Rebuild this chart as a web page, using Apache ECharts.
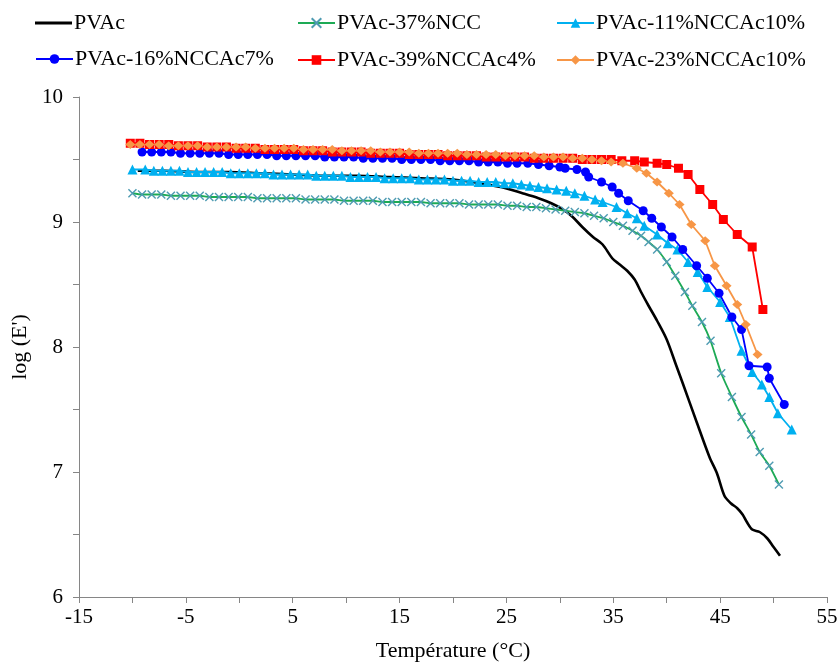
<!DOCTYPE html>
<html>
<head>
<meta charset="utf-8">
<script src="https://cdn.jsdelivr.net/npm/echarts@6/dist/echarts.min.js"></script>
<style>
html,body{margin:0;padding:0;background:#fff;}
#chart{width:838px;height:663px;}
</style>
</head>
<body>
<div id="chart"></div>
<script>
// ---- Data ----
var seriesNames = ['PVAc', 'PVAc-37%NCC', 'PVAc-11%NCCAc10%', 'PVAc-16%NCCAc7%', 'PVAc-39%NCCAc4%', 'PVAc-23%NCCAc10%'];

var pvacX = [-9.5, -7, -4, -1, 2, 5, 8, 11, 14, 17, 20, 22.5, 24.5, 26.5, 28, 29.2, 30.3, 31.2, 32.1, 33.1, 34.0, 34.9, 35.6, 36.3, 37.0, 37.6, 38.3, 39.1, 40.0, 40.9, 41.5, 42.8, 44.0, 44.7, 45.4, 46.0, 46.6, 47.1, 47.5, 48.0, 48.7, 49.4, 50.0, 50.6];
var pvacY = [9.41, 9.41, 9.40, 9.40, 9.39, 9.38, 9.37, 9.37, 9.36, 9.35, 9.34, 9.31, 9.28, 9.23, 9.19, 9.15, 9.10, 9.04, 8.96, 8.88, 8.82, 8.71, 8.66, 8.61, 8.54, 8.44, 8.33, 8.21, 8.06, 7.85, 7.71, 7.40, 7.12, 6.99, 6.81, 6.75, 6.71, 6.66, 6.60, 6.54, 6.52, 6.47, 6.40, 6.33];

var nccX = [-10.0, -9.1, -8.2, -7.3, -6.4, -5.5, -4.6, -3.7, -2.8, -1.9, -1.0, -0.1, 0.8, 1.7, 2.6, 3.5, 4.4, 5.3, 6.2, 7.1, 8.0, 8.9, 9.8, 10.7, 11.6, 12.5, 13.4, 14.3, 15.2, 16.1, 17.0, 17.9, 18.8, 19.7, 20.6, 21.5, 22.4, 23.3, 24.2, 25.1, 26.0, 26.9, 27.8, 28.7, 29.6, 30.5, 31.4, 32.3, 33.2, 34.1, 35.0, 35.9, 36.8, 37.6, 38.3, 39.1, 40.0, 40.8, 41.7, 42.4, 43.3, 44.1, 45.1, 46.1, 47.0, 47.9, 48.7, 49.6, 50.5];
var nccY = [9.23, 9.22, 9.22, 9.22, 9.21, 9.21, 9.21, 9.21, 9.20, 9.20, 9.20, 9.20, 9.20, 9.19, 9.19, 9.19, 9.19, 9.19, 9.18, 9.18, 9.18, 9.18, 9.17, 9.17, 9.17, 9.17, 9.16, 9.16, 9.16, 9.16, 9.16, 9.15, 9.15, 9.15, 9.15, 9.14, 9.14, 9.14, 9.14, 9.13, 9.13, 9.12, 9.12, 9.11, 9.10, 9.09, 9.08, 9.07, 9.05, 9.03, 9.00, 8.97, 8.93, 8.89, 8.84, 8.78, 8.68, 8.57, 8.44, 8.33, 8.20, 8.05, 7.79, 7.60, 7.44, 7.30, 7.16, 7.05, 6.90];

var ac11X = [-10.0, -8.8, -8.0, -7.2, -6.4, -5.6, -4.8, -4.0, -3.2, -2.4, -1.6, -0.8, 0.0, 0.8, 1.6, 2.4, 3.2, 4.0, 4.8, 5.6, 6.4, 7.2, 8.0, 8.8, 9.6, 10.4, 11.2, 12.0, 12.8, 13.6, 14.4, 15.2, 16.0, 16.8, 17.6, 18.4, 19.2, 20.0, 20.8, 21.6, 22.4, 23.2, 24.0, 24.8, 25.6, 26.4, 27.2, 28.0, 28.8, 29.7, 30.6, 31.4, 32.3, 33.3, 34.0, 35.3, 36.3, 37.2, 37.9, 39.1, 40.1, 41.0, 42.0, 42.9, 43.8, 45.0, 45.9, 47.0, 48.0, 48.9, 49.6, 50.4, 51.7];
var ac11Y = [9.42, 9.42, 9.41, 9.41, 9.41, 9.41, 9.40, 9.40, 9.40, 9.40, 9.40, 9.39, 9.39, 9.39, 9.39, 9.39, 9.38, 9.38, 9.38, 9.38, 9.38, 9.37, 9.37, 9.37, 9.37, 9.36, 9.36, 9.36, 9.36, 9.35, 9.35, 9.35, 9.35, 9.34, 9.34, 9.34, 9.34, 9.33, 9.33, 9.33, 9.32, 9.32, 9.32, 9.31, 9.31, 9.30, 9.29, 9.28, 9.27, 9.26, 9.25, 9.23, 9.21, 9.18, 9.16, 9.12, 9.07, 9.03, 8.97, 8.90, 8.83, 8.78, 8.68, 8.60, 8.48, 8.36, 8.24, 7.97, 7.80, 7.70, 7.60, 7.47, 7.34];

var ac7X = [-9.1, -8.2, -7.3, -6.4, -5.5, -4.6, -3.7, -2.8, -1.9, -1.0, -0.1, 0.8, 1.7, 2.6, 3.5, 4.4, 5.3, 6.2, 7.1, 8.0, 8.9, 9.8, 10.7, 11.6, 12.5, 13.4, 14.3, 15.2, 16.1, 17.0, 17.9, 18.8, 19.7, 20.6, 21.5, 22.4, 23.3, 24.2, 25.1, 26.0, 27.0, 28.0, 29.0, 30.0, 30.5, 31.6, 32.4, 32.7, 33.9, 34.9, 35.5, 36.4, 37.8, 38.6, 39.5, 40.5, 41.5, 42.8, 43.8, 44.9, 46.1, 47.0, 47.7, 49.4, 49.6, 51.0];
var ac7Y = [9.56, 9.56, 9.56, 9.56, 9.55, 9.55, 9.55, 9.55, 9.55, 9.54, 9.54, 9.54, 9.54, 9.54, 9.53, 9.53, 9.53, 9.53, 9.53, 9.52, 9.52, 9.52, 9.52, 9.51, 9.51, 9.51, 9.51, 9.50, 9.50, 9.50, 9.50, 9.49, 9.49, 9.49, 9.49, 9.48, 9.48, 9.48, 9.47, 9.47, 9.47, 9.46, 9.45, 9.44, 9.43, 9.42, 9.40, 9.36, 9.32, 9.28, 9.23, 9.17, 9.09, 9.03, 8.96, 8.88, 8.78, 8.65, 8.55, 8.43, 8.24, 8.14, 7.85, 7.84, 7.75, 7.54];

var ac4X = [-10.2, -9.3, -8.4, -7.5, -6.6, -5.7, -4.8, -3.9, -3.0, -2.1, -1.2, -0.3, 0.6, 1.5, 2.4, 3.3, 4.2, 5.1, 6.0, 6.9, 7.8, 8.7, 9.6, 10.5, 11.4, 12.3, 13.2, 14.1, 15.0, 15.9, 16.8, 17.7, 18.6, 19.5, 20.4, 21.3, 22.2, 23.1, 24.0, 24.9, 25.8, 26.7, 27.6, 28.5, 29.4, 30.3, 31.2, 32.1, 33.0, 33.9, 34.8, 35.8, 37.0, 37.9, 39.1, 40.0, 41.1, 42.0, 43.1, 44.3, 45.3, 46.6, 48.0, 49.0];
var ac4Y = [9.63, 9.63, 9.62, 9.62, 9.62, 9.61, 9.61, 9.61, 9.60, 9.60, 9.60, 9.59, 9.59, 9.59, 9.58, 9.58, 9.58, 9.58, 9.57, 9.57, 9.57, 9.56, 9.56, 9.56, 9.56, 9.55, 9.55, 9.55, 9.55, 9.54, 9.54, 9.54, 9.54, 9.53, 9.53, 9.53, 9.53, 9.52, 9.52, 9.52, 9.52, 9.52, 9.51, 9.51, 9.51, 9.51, 9.51, 9.50, 9.50, 9.50, 9.50, 9.49, 9.49, 9.48, 9.47, 9.46, 9.43, 9.38, 9.26, 9.14, 9.02, 8.90, 8.80, 8.30];

var ac10X = [-10.2, -9.3, -8.4, -7.5, -6.6, -5.7, -4.8, -3.9, -3.0, -2.1, -1.2, -0.3, 0.6, 1.5, 2.4, 3.3, 4.2, 5.1, 6.0, 6.9, 7.8, 8.7, 9.6, 10.5, 11.4, 12.3, 13.2, 14.1, 15.0, 15.9, 16.8, 17.7, 18.6, 19.5, 20.4, 21.3, 22.2, 23.1, 24.0, 24.9, 25.8, 26.7, 27.6, 28.5, 29.4, 30.3, 31.2, 32.1, 33.0, 33.9, 34.8, 35.9, 37.2, 38.1, 39.1, 40.2, 41.2, 42.3, 43.6, 44.5, 45.6, 46.6, 47.4, 48.5];
var ac10Y = [9.62, 9.62, 9.62, 9.62, 9.61, 9.61, 9.61, 9.61, 9.60, 9.60, 9.60, 9.60, 9.60, 9.59, 9.59, 9.59, 9.59, 9.59, 9.58, 9.58, 9.58, 9.58, 9.57, 9.57, 9.57, 9.57, 9.56, 9.56, 9.56, 9.56, 9.55, 9.55, 9.55, 9.55, 9.55, 9.54, 9.54, 9.54, 9.54, 9.53, 9.53, 9.53, 9.53, 9.52, 9.52, 9.52, 9.51, 9.51, 9.50, 9.49, 9.48, 9.47, 9.43, 9.39, 9.32, 9.23, 9.14, 8.98, 8.85, 8.65, 8.49, 8.34, 8.18, 7.94];

var xTickLabels = ['-15', '-5', '5', '15', '25', '35', '45', '55'];
var yTickLabels = ['6', '7', '8', '9', '10'];

function pairs(xs, ys) { return xs.map(function (x, i) { return [x, ys[i]]; }); }

var FONT = "'Liberation Serif', 'Times New Roman', serif";
var AXIS_COLOR = '#868686';

var chart = echarts.init(document.getElementById('chart'), null, { renderer: 'canvas' });

function legendCol(left, top, names, opts) {
  var l = {
    orient: 'vertical',
    left: left,
    top: top,
    padding: 0,
    itemWidth: 37,
    itemHeight: 12,
    itemGap: 15,
    data: names,
    textStyle: { fontFamily: FONT, fontSize: 22, color: '#000', padding: [0, 0, 0, -3] },
    selectedMode: false
  };
  if (opts) { for (var k in opts) l[k] = opts[k]; }
  return l;
}

var option = {
  animation: false,
  backgroundColor: '#fff',
  legend: [
    legendCol(35, 12, [{ name: seriesNames[0], icon: 'rect' }], { itemHeight: 3, itemGap: 0 }),
    legendCol(35, 48, [seriesNames[3]]),
    legendCol(297, 12, [seriesNames[1], seriesNames[4]]),
    legendCol(556, 12, [seriesNames[2], seriesNames[5]])
  ],
  grid: { left: 79, right: 11, top: 97, bottom: 66, containLabel: false, outerBoundsMode: 'none' },
  xAxis: {
    type: 'value',
    min: -15, max: 55, interval: 5,
    name: 'Température (°C)',
    nameLocation: 'middle',
    nameGap: 43,
    nameTextStyle: { fontFamily: FONT, fontSize: 22, color: '#000' },
    axisLine: { onZero: false, lineStyle: { color: AXIS_COLOR, width: 1 } },
    axisTick: { show: true, inside: false, length: 6, lineStyle: { color: AXIS_COLOR } },
    splitLine: { show: false },
    axisLabel: {
      fontFamily: FONT, fontSize: 21, color: '#000', margin: 10,
      formatter: function (v) { var s = String(v); return xTickLabels.indexOf(s) >= 0 ? s : ''; }
    }
  },
  yAxis: {
    type: 'value',
    min: 6, max: 10, interval: 0.5,
    name: "log (E')",
    nameLocation: 'middle',
    nameGap: 48,
    nameRotate: 90,
    nameTextStyle: { fontFamily: FONT, fontSize: 22, color: '#000' },
    axisLine: { show: true, onZero: false, lineStyle: { color: AXIS_COLOR, width: 1 } },
    axisTick: { show: true, inside: false, length: 6, lineStyle: { color: AXIS_COLOR } },
    splitLine: { show: false },
    axisLabel: {
      fontFamily: FONT, fontSize: 21, color: '#000', margin: 16,
      formatter: function (v) { var s = String(v); return yTickLabels.indexOf(s) >= 0 ? s : ''; }
    }
  },
  series: [
    {
      name: seriesNames[0], type: 'line', data: pairs(pvacX, pvacY),
      symbol: 'none', smooth: 0.3,
      lineStyle: { color: '#000000', width: 2.6 }, itemStyle: { color: '#000000' }
    },
    {
      name: seriesNames[1], type: 'line', data: pairs(nccX, nccY),
      symbol: 'path://M0,0L10,10M10,0L0,10', symbolSize: 8, smooth: 0.2,
      lineStyle: { color: '#1DAA55', width: 1.8 },
      itemStyle: { color: 'none', borderColor: '#4E9BB2', borderWidth: 1.4 }
    },
    {
      name: seriesNames[2], type: 'line', data: pairs(ac11X, ac11Y),
      symbol: 'triangle', symbolSize: 10,
      lineStyle: { color: '#00B0F0', width: 1.8 }, itemStyle: { color: '#00B0F0' }
    },
    {
      name: seriesNames[3], type: 'line', data: pairs(ac7X, ac7Y),
      symbol: 'circle', symbolSize: 9,
      lineStyle: { color: '#0000FF', width: 1.8 }, itemStyle: { color: '#0000FF' }
    },
    {
      name: seriesNames[4], type: 'line', data: pairs(ac4X, ac4Y),
      symbol: 'rect', symbolSize: 9,
      lineStyle: { color: '#FF0000', width: 1.8 }, itemStyle: { color: '#FF0000' }
    },
    {
      name: seriesNames[5], type: 'line', data: pairs(ac10X, ac10Y),
      symbol: 'diamond', symbolSize: [10, 9],
      lineStyle: { color: '#F79646', width: 1.8 }, itemStyle: { color: '#F79646' }
    }
  ]
};
chart.setOption(option);
</script>
</body>
</html>
